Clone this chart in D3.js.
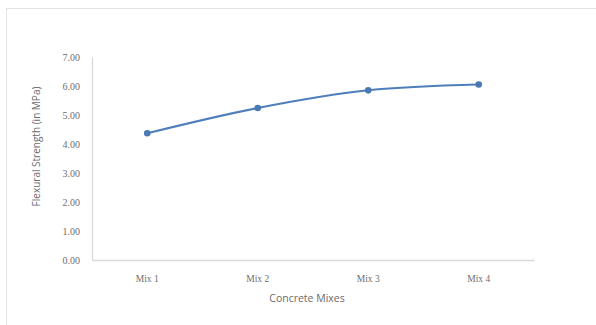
<!DOCTYPE html>
<html>
<head>
<meta charset="utf-8">
<script src="https://cdn.jsdelivr.net/npm/d3@7"></script>
<style>
  html, body { margin: 0; padding: 0; background: #fff; }
  svg { display: block; }
</style>
</head>
<body>
<svg id="chart" width="596" height="325"></svg>
<script>
// Flexural strength of each concrete mix
const categories = ["Mix 1", "Mix 2", "Mix 3", "Mix 4"];
const strength = [4.37, 5.24, 5.85, 6.05];
const yTicks = [0, 1, 2, 3, 4, 5, 6, 7];

const svg = d3.select("#chart");
const plot = { left: 92, right: 534, top: 57, bottom: 260 };

// outer chart frame
svg.append("rect")
  .attr("x", 6.5).attr("y", 8.5)
  .attr("width", 600).attr("height", 340)
  .attr("fill", "#fff")
  .attr("stroke", "#e3e3e3").attr("stroke-width", 1);

const x = d3.scaleBand().domain(categories).range([plot.left, plot.right]);
const y = d3.scaleLinear().domain([0, 7]).range([plot.bottom, plot.top]);

const labelFont = "'Liberation Serif', serif";

// y axis
const yAxis = svg.append("g")
  .attr("transform", `translate(${plot.left},0)`)
  .call(d3.axisLeft(y).tickValues(yTicks).tickFormat(d3.format(".2f")).tickSize(0).tickPadding(12));
yAxis.attr("font-family", null);
yAxis.select(".domain").attr("stroke", "#d9d9d9").attr("stroke-width", 1.3);
yAxis.selectAll("text")
  .attr("fill", "#6e6e6e")
  .style("font-family", labelFont)
  .style("font-size", "10px");

// x axis
const xAxis = svg.append("g")
  .attr("transform", `translate(0,${plot.bottom})`)
  .call(d3.axisBottom(x).tickSize(0).tickPadding(15));
xAxis.attr("font-family", null);
xAxis.select(".domain").attr("stroke", "#d9d9d9").attr("stroke-width", 1.3);
xAxis.selectAll("text")
  .attr("fill", "#6e6e6e")
  .style("font-family", labelFont)
  .style("font-size", "9.5px");

// axis titles
svg.append("text")
  .attr("transform", `translate(40,${(plot.top + plot.bottom) / 2 - 12}) rotate(-90)`)
  .attr("text-anchor", "middle")
  .attr("fill", "#6b6b6b")
  .style("font-family", "'Open Sans', sans-serif")
  .style("font-size", "10px")
  .text("Flexural Strength (in MPa)");

svg.append("text")
  .attr("x", 307).attr("y", 302)
  .attr("text-anchor", "middle")
  .attr("fill", "#6b6b6b")
  .style("font-family", "'Open Sans', sans-serif")
  .style("font-size", "10.5px")
  .text("Concrete Mixes");

// smoothed series line
const pts = categories.map((c, i) => [x(c) + x.bandwidth() / 2, y(strength[i])]);
svg.append("path")
  .attr("d", d3.line().curve(d3.curveCatmullRom.alpha(0.5))(pts))
  .attr("fill", "none")
  .attr("stroke", "#4f7fba")
  .attr("stroke-width", 2);

svg.selectAll("circle.pt")
  .data(pts)
  .join("circle")
  .attr("class", "pt")
  .attr("cx", d => d[0]).attr("cy", d => d[1])
  .attr("r", 3.3)
  .attr("fill", "#4a78b3");
</script>
</body>
</html>
